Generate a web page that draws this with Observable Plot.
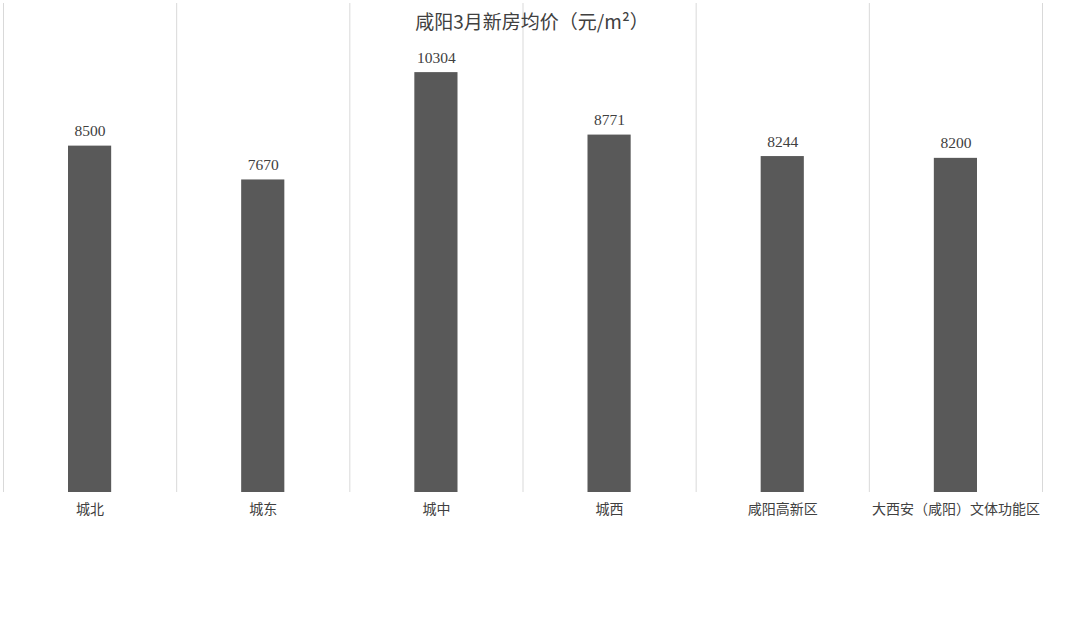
<!DOCTYPE html>
<html>
<head>
<meta charset="utf-8">
<script src="https://cdn.jsdelivr.net/npm/d3@7"></script>
<script src="https://cdn.jsdelivr.net/npm/@observablehq/plot@0.6"></script>
<style>
  html, body { margin: 0; padding: 0; background: #fff; }
</style>
</head>
<body>
<div id="chart"></div>
<script>
const title = "咸阳3月新房均价（元/m²）";
const categories = ["城北", "城东", "城中", "城西", "咸阳高新区", "大西安（咸阳）文体功能区"];
const prices = [8500, 7670, 10304, 8771, 8244, 8200];

const data = categories.map((c, i) => ({category: c, idx: i, price: prices[i]}));
const edges = d3.range(categories.length + 1);

const chart = Plot.plot({
  width: 1080,
  height: 627,
  marginLeft: 3,
  marginRight: 38,
  marginTop: 3,
  marginBottom: 135,
  style: {background: "#fff", fontFamily: "'Noto Sans CJK SC', sans-serif"},
  x: {domain: [0, categories.length], axis: null},
  y: {domain: [0, 12000], axis: null},
  marks: [
    Plot.ruleX(edges, {x: d => d, y1: 0, y2: 12000, stroke: "#d9d9d9", strokeWidth: 1}),
    Plot.rectY(data, {x1: "idx", x2: d => d.idx + 1, y: "price", fill: "#595959", insetLeft: 65, insetRight: 65}),
    Plot.text(data, {x: d => d.idx + 0.5, y: "price", text: d => String(d.price), dy: -15, fill: "#404040", fontSize: 15.5, fontFamily: "'Liberation Serif', serif"}),
    Plot.text(data, {x: d => d.idx + 0.5, y: 0, text: "category", dy: 17, fill: "#404040", fontSize: 14}),
    Plot.text([title], {frameAnchor: "top", lineAnchor: "middle", dx: 9, dy: 19, text: d => d, fill: "#404040", fontSize: 19})
  ]
});
document.getElementById("chart").appendChild(chart);
</script>
</body>
</html>
